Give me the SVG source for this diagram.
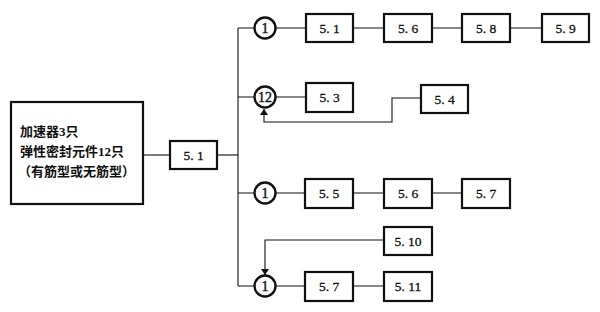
<svg xmlns="http://www.w3.org/2000/svg" width="600" height="312" viewBox="0 0 600 312">
<defs>
<style>
.b{fill:#fff;stroke:#111;stroke-width:2.2}
.c{fill:#fff;stroke:#111;stroke-width:2.4}
.l{fill:none;stroke:#111;stroke-width:1.1}
.t{font-family:"Liberation Serif","Noto Sans CJK SC",serif;font-size:13.5px;fill:#111;stroke:#111;stroke-width:0.3;text-anchor:middle;dominant-baseline:central}
.z{font-family:"Liberation Serif","Noto Sans CJK SC",serif;font-size:13px;fill:#111;font-weight:bold}
.n{font-family:"Liberation Serif",serif;font-size:14px;fill:#111;stroke:#111;stroke-width:0.4;text-anchor:middle;dominant-baseline:central}
</style>
<marker id="a" viewBox="0 0 6 8" refX="6" refY="4" markerWidth="6" markerHeight="8" markerUnits="userSpaceOnUse" orient="auto">
<path d="M0,0 L6,4 L0,8 z" fill="#111"/>
</marker>
</defs>
<rect width="600" height="312" fill="#fff"/>
<g id="connectors">
<path class="l" d="M143,155 H170"/>
<path class="l" d="M217,155 H238"/>
<path class="l" d="M238,28 V286"/>
<path class="l" d="M238,28 H254 M276,28 H306 M353,28 H384 M432,28 H462 M510,28 H542"/>
<path class="l" d="M238,97 H254 M276,97 H306"/>
<path class="l" d="M421,98 H392 V122 H264 V109" marker-end="url(#a)"/>
<path class="l" d="M238,193 H254 M276,193 H305 M353,193 H384 M432,193 H462"/>
<path class="l" d="M384,240 H265 V275" marker-end="url(#a)"/>
<path class="l" d="M238,286 H254 M276,286 H305 M353,286 H384"/>
</g>
<g id="main">
<rect class="b" x="11" y="102" width="132" height="102"/>
<text class="z" x="20" y="136">加速器3只</text>
<text class="z" x="20" y="156">弹性密封元件12只</text>
<text class="z" x="18" y="176">（有筋型或无筋型）</text>
</g>
<g id="n51a"><rect class="b" x="170" y="141" width="47" height="28"/><text class="t" x="193.5" y="155">5. 1</text></g>
<g id="c1"><circle class="c" cx="265" cy="28" r="10.5"/><text class="n" x="265" y="28">1</text></g>
<g id="n51b"><rect class="b" x="306" y="14" width="47" height="28"/><text class="t" x="329.5" y="28">5. 1</text></g>
<g id="n56a"><rect class="b" x="384" y="14" width="48" height="28"/><text class="t" x="408" y="28">5. 6</text></g>
<g id="n58"><rect class="b" x="462" y="14" width="48" height="28"/><text class="t" x="486" y="28">5. 8</text></g>
<g id="n59"><rect class="b" x="542" y="14" width="47" height="28"/><text class="t" x="565.5" y="28">5. 9</text></g>
<g id="c2"><circle class="c" cx="265" cy="97" r="10.5"/><text class="n" x="265" y="97">12</text></g>
<g id="n53"><rect class="b" x="306" y="83" width="47" height="29"/><text class="t" x="329.5" y="97.5">5. 3</text></g>
<g id="n54"><rect class="b" x="421" y="85" width="47" height="28"/><text class="t" x="444.5" y="99">5. 4</text></g>
<g id="c3"><circle class="c" cx="265" cy="193" r="10.5"/><text class="n" x="265" y="193">1</text></g>
<g id="n55"><rect class="b" x="305" y="179" width="48" height="29"/><text class="t" x="329" y="193.5">5. 5</text></g>
<g id="n56b"><rect class="b" x="384" y="179" width="48" height="29"/><text class="t" x="408" y="193.5">5. 6</text></g>
<g id="n57a"><rect class="b" x="462" y="179" width="48" height="29"/><text class="t" x="486" y="193.5">5. 7</text></g>
<g id="n510"><rect class="b" x="384" y="227" width="48" height="28"/><text class="t" x="408" y="241">5. 10</text></g>
<g id="c4"><circle class="c" cx="265" cy="286" r="10.5"/><text class="n" x="265" y="286">1</text></g>
<g id="n57b"><rect class="b" x="305" y="272" width="48" height="29"/><text class="t" x="329" y="286.5">5. 7</text></g>
<g id="n511"><rect class="b" x="384" y="272" width="48" height="29"/><text class="t" x="408" y="286.5">5. 11</text></g>
</svg>
